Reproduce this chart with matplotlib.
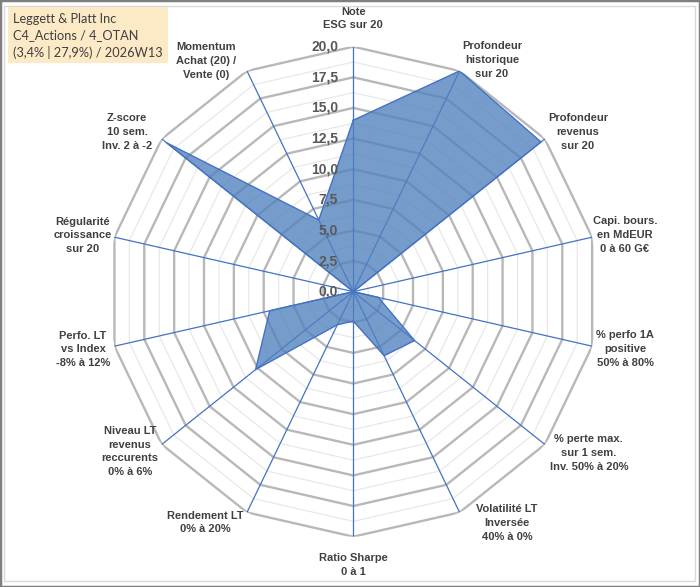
import numpy as np
import matplotlib
matplotlib.use('Agg')
import matplotlib.pyplot as plt
from matplotlib.patches import Rectangle

plt.rcParams['font.family'] = ['Liberation Sans', 'DejaVu Sans']

# données du radar
categories = ['Note\nESG sur 20', 'Profondeur\nhistorique\nsur 20', 'Profondeur\nrevenus\nsur 20',
              'Capi. bours.\nen MdEUR\n0 à 60 G€', '% perfo 1A\npositive\n50% à 80%',
              '% perte max.\nsur 1 sem.\nInv. 50% à 20%', 'Volatilité LT\nInversée\n40% à 0%',
              'Ratio Sharpe\n0 à 1', 'Rendement LT\n0% à 20%', 'Niveau LT\nrevenus\nreccurents\n0% à 6%',
              'Perfo. LT\nvs Index\n-8% à 12%', 'Régularité\ncroissance\nsur 20',
              'Z-score\n10 sem.\nInv. 2 à -2', 'Momentum\nAchat (20) /\nVente (0)']
values = [14.0, 20.0, 19.6, 0.0, 2.1, 6.4, 5.8, 2.4, 3.0, 10.2, 7.0, 0.0, 19.5, 6.5]
ticks = [0, 2.5, 5, 7.5, 10, 12.5, 15, 17.5, 20]
title_lines = ['Leggett & Platt Inc', 'C4_Actions / 4_OTAN', '(3,4% | 27,9%) / 2026W13']

# position des libellés (angle en degrés, rayon)
label_theta = [0, 30.9, 54.6, 78.2, 101.9, 124.4, 146.4, 180, 212.7, 234.4, 258, 281.8, 305.2, 327.4]
label_r = [22.3, 22.05, 22.5, 22.65, 22.67, 23.3, 22.67, 22.3, 22.4, 22.4, 22.55, 22.57, 22.6, 22.35]

n = len(categories)
angles = np.arange(n) * 2 * np.pi / n
closed = np.append(angles, angles[0])

fig = plt.figure(figsize=(7, 5.87), dpi=100)
fig.patches.append(Rectangle((0.0, 0.0), 1, 1, transform=fig.transFigure, fill=False,
                             edgecolor='#7f7f7f', linewidth=2.5))
fig.patches.append(Rectangle((0.006, 0.01), 0.987, 0.98, transform=fig.transFigure, fill=False,
                             edgecolor='#d9d9d9', linewidth=1))

ax = fig.add_axes([0.1547, 0.0857, 0.7, 0.8348], projection='polar')
ax.set_theta_zero_location('N')
ax.set_theta_direction(-1)
ax.set_ylim(0, 20)
ax.grid(False)
ax.set_xticks([])
ax.set_yticks([])
ax.spines['polar'].set_visible(False)
ax.patch.set_visible(False)

# anneaux secondaires et principaux
for v in np.arange(1.25, 20.01, 1.25):
    if abs(v / 2.5 - round(v / 2.5)) < 1e-6:
        ax.plot(closed, [v] * (n + 1), color='#b8b8b8', linewidth=1.7, zorder=1)
    else:
        ax.plot(closed, [v] * (n + 1), color='#e8e8e8', linewidth=0.9, zorder=0.9)

for a in angles:
    ax.plot([a, a], [0, 20], color='#4472c4', linewidth=0.9, zorder=2)

vals = np.append(values, values[0])
ax.fill(closed, vals, color='#4f81bd', alpha=0.78, zorder=3, linewidth=0)
ax.plot(closed, vals, color='#4472c4', linewidth=1.0, zorder=4)

for t in ticks:
    ax.annotate(f'{t:.1f}'.replace('.', ','), xy=(0, t), xytext=(-11, 0), textcoords='offset points',
                ha='right', va='center', fontsize=10, fontweight='bold', color='#595959', zorder=5)

for lab, th, r in zip(categories, label_theta, label_r):
    ax.text(np.deg2rad(th), r, lab, ha='center', va='center', fontsize=8, fontweight='bold',
            color='#404040', linespacing=1.45, clip_on=False)

fig.patches.append(Rectangle((8 / 700, 1 - 63 / 587), 160 / 700, 56 / 587, transform=fig.transFigure,
                             facecolor='#fce9c6', edgecolor='none'))
fig.text(13 / 700, 1 - 36 / 587, '\n'.join(title_lines), ha='left', va='center', fontsize=9.2,
         family=['Lato', 'DejaVu Sans'], color='#404040', linespacing=1.45)

fig.savefig('out.png', dpi=100)
